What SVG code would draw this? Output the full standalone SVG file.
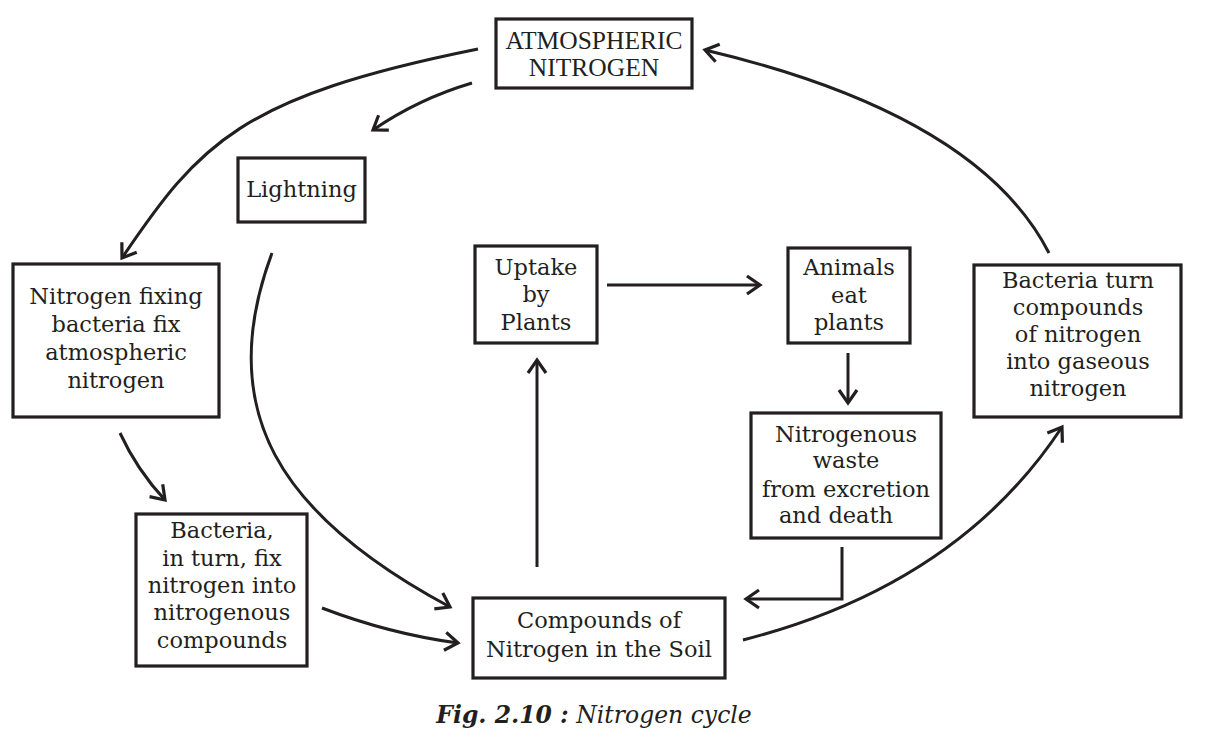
<svg xmlns="http://www.w3.org/2000/svg" width="1207" height="745" viewBox="0 0 1207 745">
<style>
.box{fill:#fff;stroke:#231f20;stroke-width:3.2}
.t{font-family:"DejaVu Serif","Liberation Serif",serif;font-size:22.5px;fill:#231f20;text-anchor:middle}
.tt{font-family:"Liberation Serif",serif;font-size:25.5px;fill:#231f20;text-anchor:middle}
.c{fill:none;stroke:#231f20;stroke-width:3}
.cap{font-family:"DejaVu Serif","Liberation Serif",serif;font-size:23.5px;fill:#231f20;font-style:italic}
</style>
<defs>
<marker id="ah" markerUnits="userSpaceOnUse" markerWidth="20" markerHeight="22" viewBox="0 0 20 22" refX="16" refY="11" orient="auto">
<path d="M3,2 L16,11 L3,20" fill="none" stroke="#231f20" stroke-width="3.2" stroke-linecap="butt" stroke-linejoin="miter"/>
</marker>
</defs>
<rect width="1207" height="745" fill="#fff"/>
<g id="connectors">
<path class="c" d="M478,49 C240,97 200,143 122,258" marker-end="url(#ah)"/>
<path class="c" d="M472,83 Q418,99 373,130" marker-end="url(#ah)"/>
<path class="c" d="M272,253 C213,411 280,516 450,607" marker-end="url(#ah)"/>
<path class="c" d="M120,433 Q137,470 165,500" marker-end="url(#ah)"/>
<path class="c" d="M322,608 Q390,634 458,643" marker-end="url(#ah)"/>
<path class="c" d="M743,640 Q958,585 1062,427" marker-end="url(#ah)"/>
<path class="c" d="M1049,253 C986,130 815,76 705,50" marker-end="url(#ah)"/>
<path class="c" d="M537,567 V360" marker-end="url(#ah)"/>
<path class="c" d="M607,285 H760" marker-end="url(#ah)"/>
<path class="c" d="M848,353 V403" marker-end="url(#ah)"/>
<path class="c" d="M842,547 V599 H746" marker-end="url(#ah)"/>
</g>
<g id="atmospheric">
<rect class="box" x="496" y="19" width="196" height="69"/>
<text class="tt" x="594" y="49">ATMOSPHERIC</text>
<text class="tt" x="594" y="76">NITROGEN</text>
</g>
<g id="lightning">
<rect class="box" x="238" y="158" width="127" height="64"/>
<text class="t" x="301.5" y="197">Lightning</text>
</g>
<g id="fixing">
<rect class="box" x="13" y="264" width="206" height="153"/>
<text class="t" x="116" y="304">Nitrogen fixing</text>
<text class="t" x="116" y="332">bacteria fix</text>
<text class="t" x="116" y="360">atmospheric</text>
<text class="t" x="116" y="388">nitrogen</text>
</g>
<g id="bacteria-compounds">
<rect class="box" x="136" y="514" width="171" height="152"/>
<text class="t" x="222" y="538">Bacteria,</text>
<text class="t" x="222" y="566">in turn, fix</text>
<text class="t" x="222" y="593">nitrogen into</text>
<text class="t" x="222" y="620">nitrogenous</text>
<text class="t" x="222" y="648">compounds</text>
</g>
<g id="soil">
<rect class="box" x="473" y="598" width="252" height="80"/>
<text class="t" x="599" y="628">Compounds of</text>
<text class="t" x="599" y="657">Nitrogen in the Soil</text>
</g>
<g id="uptake">
<rect class="box" x="475" y="246" width="122" height="97"/>
<text class="t" x="536" y="275">Uptake</text>
<text class="t" x="536" y="302">by</text>
<text class="t" x="536" y="330">Plants</text>
</g>
<g id="animals">
<rect class="box" x="788" y="248" width="122" height="95"/>
<text class="t" x="849" y="275">Animals</text>
<text class="t" x="849" y="303">eat</text>
<text class="t" x="849" y="330">plants</text>
</g>
<g id="waste">
<rect class="box" x="751" y="413" width="190" height="125"/>
<text class="t" x="846" y="442">Nitrogenous</text>
<text class="t" x="846" y="468">waste</text>
<text class="t" x="846" y="497">from excretion</text>
<text class="t" x="836" y="523">and death</text>
</g>
<g id="denitrify">
<rect class="box" x="974" y="265" width="207" height="152"/>
<text class="t" x="1078" y="288">Bacteria turn</text>
<text class="t" x="1078" y="315">compounds</text>
<text class="t" x="1078" y="342">of nitrogen</text>
<text class="t" x="1078" y="369">into gaseous</text>
<text class="t" x="1078" y="396">nitrogen</text>
</g>
<g id="caption">
<text class="cap" x="594" y="723" text-anchor="middle"><tspan font-weight="bold">Fig. 2.10 :</tspan> Nitrogen cycle</text>
</g>
</svg>
